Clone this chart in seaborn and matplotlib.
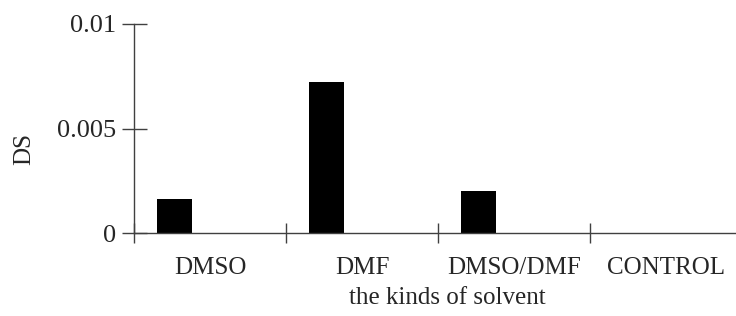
import matplotlib
matplotlib.use("Agg")
import matplotlib.pyplot as plt
import seaborn as sns
import pandas as pd

categories = ["DMSO", "DMF", "DMSO/DMF", "CONTROL"]
ds_values = [0.00163, 0.00722, 0.00201, 0.0]
empty_series_b = [0.0, 0.0, 0.0, 0.0]
empty_series_c = [0.0, 0.0, 0.0, 0.0]
series_names = ["S1", "S2", "S3"]
y_ticks = [0, 0.005, 0.01]
y_tick_labels = ["0", "0.005", "0.01"]

rows = []
for name, vals in zip(series_names, [ds_values, empty_series_b, empty_series_c]):
    for c, v in zip(categories, vals):
        rows.append({"solvent": c, "DS": v, "series": name})
df = pd.DataFrame(rows)

sns.set_style("white")
plt.rcParams["font.family"] = ["Liberation Serif", "DejaVu Serif"]

fig = plt.figure(figsize=(7.36, 3.16), dpi=100)
ax = fig.add_axes([134/736, 1-233/316, (742-134)/736, (233-24)/316])

sns.barplot(data=df, x="solvent", y="DS", hue="series", order=categories,
            hue_order=series_names, palette=["black", "black", "black"],
            width=0.70, dodge=True, legend=False, ax=ax, linewidth=0,
            saturation=1)

ax.set_xlim(-0.5, 3.5)
ax.set_ylim(0, 0.01)
ax.set_yticks(y_ticks)
ax.set_yticklabels(y_tick_labels, fontsize=19)

n = len(categories)
ax.set_xticks([i - 0.5 for i in range(n + 1)])
ax.set_xticklabels([""] * (n + 1))
ax.set_xticks(list(range(n)), minor=True)
ax.set_xticklabels(categories, minor=True, fontsize=18)
ax.tick_params(axis="x", which="minor", bottom=True, length=0, pad=17)
ax.tick_params(axis="x", which="major", bottom=True, direction="inout", length=14, width=1, color="#404040")
ax.tick_params(axis="y", which="major", left=True, direction="inout", length=18, width=1, color="#404040", pad=4)

for s in ["top", "right"]:
    ax.spines[s].set_visible(False)
for s in ["left", "bottom"]:
    ax.spines[s].set_color("#404040")
    ax.spines[s].set_linewidth(1)

ax.set_xlabel("the kinds of solvent", fontsize=18)
ax.set_ylabel("DS", fontsize=18)
ax.xaxis.set_label_coords((447-134)/608, -(287-233)/209)
ax.yaxis.set_label_coords(-(134-35)/608, (233-149)/209)

fig.savefig("out.png", dpi=100)
